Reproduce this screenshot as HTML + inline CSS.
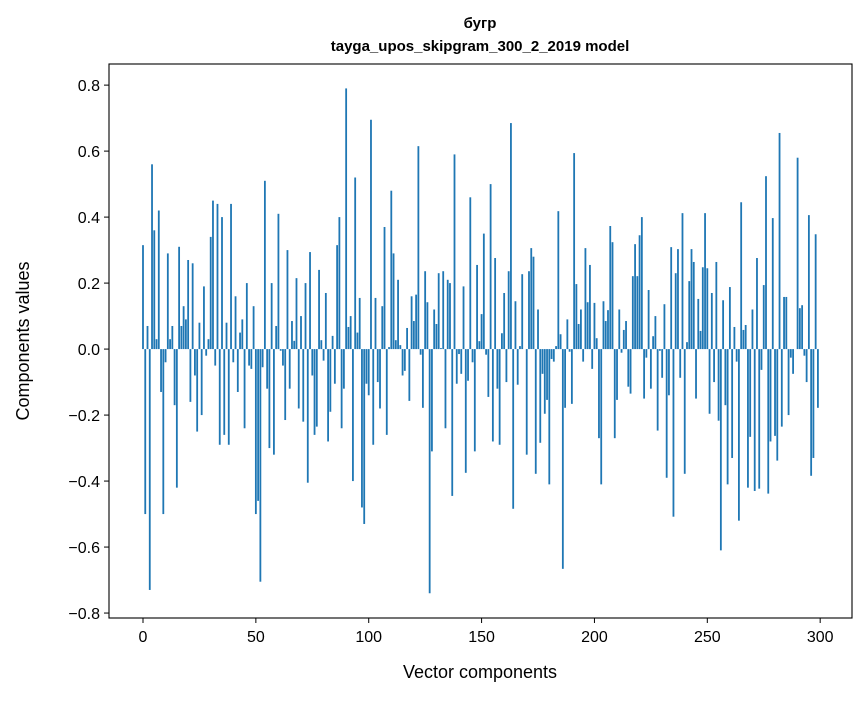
<!DOCTYPE html>
<html><head><meta charset="utf-8"><style>
body{margin:0;background:#fff;}
svg text{font-family:"Liberation Sans","DejaVu Sans",sans-serif;fill:#000;}
</style></head><body>
<svg id="chart" width="867" height="696" viewBox="0 0 867 696" xmlns="http://www.w3.org/2000/svg">
<rect width="867" height="696" fill="#fff"/>
<text x="480" y="28" text-anchor="middle" font-size="15" font-weight="bold">бугр</text>
<text x="480" y="51" text-anchor="middle" font-size="15" font-weight="bold">tayga_upos_skipgram_300_2_2019 model</text>
<g id="bars"></g>
<g id="axes"></g>
<text x="480" y="678" text-anchor="middle" font-size="18">Vector components</text>
<text transform="translate(29,341) rotate(-90)" text-anchor="middle" font-size="18">Components values</text>
</svg>
<script>
const values = [0.315,-0.50,0.07,-0.73,0.56,0.36,0.03,0.42,-0.13,-0.50,
-0.04,0.29,0.03,0.07,-0.17,-0.42,0.31,0.07,0.13,0.09,
0.27,-0.16,0.26,-0.08,-0.25,0.08,-0.20,0.19,-0.02,0.03,
0.34,0.45,-0.05,0.44,-0.29,0.40,-0.26,0.08,-0.29,0.44,
-0.04,0.16,-0.13,0.05,0.09,-0.24,0.20,-0.05,-0.06,0.13,
-0.50,-0.46,-0.705,-0.055,0.51,-0.12,-0.30,0.20,-0.32,0.07,
0.41,-0.005,-0.05,-0.215,0.30,-0.12,0.085,0.025,0.215,-0.18,
0.10,-0.22,0.20,-0.405,0.294,-0.08,-0.26,-0.235,0.24,0.027,
-0.035,0.17,-0.28,-0.19,0.04,-0.105,0.315,0.40,-0.24,-0.12,
0.79,0.067,0.10,-0.40,0.52,0.05,0.155,-0.48,-0.53,-0.105,
-0.14,0.695,-0.29,0.155,-0.10,-0.18,0.13,0.37,-0.26,0.006,
0.48,0.29,0.027,0.21,0.012,-0.08,-0.066,0.064,-0.157,0.16,
0.085,0.165,0.615,-0.017,-0.178,0.236,0.142,-0.74,-0.31,0.12,
0.076,0.23,0.003,0.236,-0.24,0.21,0.20,-0.445,0.59,-0.105,
-0.015,-0.075,0.19,-0.375,-0.096,0.46,-0.04,-0.31,0.255,0.024,
0.106,0.35,-0.017,-0.145,0.50,-0.28,0.276,-0.12,-0.29,0.048,
0.17,-0.10,0.236,0.685,-0.484,0.145,-0.108,0.009,0.227,0.0,
-0.32,0.236,0.306,0.28,-0.378,0.12,-0.284,-0.075,-0.196,-0.154,
-0.41,-0.03,-0.038,0.009,0.418,0.045,-0.666,-0.178,0.09,-0.008,
-0.166,0.594,0.197,0.076,0.12,-0.038,0.306,0.142,0.255,-0.06,
0.14,0.033,-0.27,-0.41,0.145,0.085,0.118,0.373,0.324,-0.27,
-0.154,0.12,-0.011,0.058,0.085,-0.114,-0.135,0.221,0.318,0.221,
0.345,0.40,-0.15,-0.026,0.179,-0.12,0.039,0.10,-0.247,-0.005,
-0.087,0.136,-0.39,-0.14,0.309,-0.508,0.23,0.303,-0.087,0.412,
-0.378,0.021,0.206,0.303,0.264,-0.15,0.152,0.055,0.248,0.412,
0.245,-0.196,0.17,-0.10,0.264,-0.217,-0.61,0.148,-0.17,-0.41,
0.188,-0.33,0.067,-0.038,-0.52,0.445,0.058,0.073,-0.42,-0.266,
0.12,-0.43,0.276,-0.423,-0.063,0.194,0.524,-0.438,-0.28,0.397,
-0.263,-0.338,0.655,-0.235,0.158,0.158,-0.20,-0.026,-0.075,0.0,
0.58,0.124,0.133,-0.02,-0.10,0.406,-0.384,-0.33,0.348,-0.178];
const xTicks = [0,50,100,150,200,250,300];
const yTicks = [-0.8,-0.6,-0.4,-0.2,0.0,0.2,0.4,0.6,0.8];
const yTickLabels = ["\u22120.8","\u22120.6","\u22120.4","\u22120.2","0.0","0.2","0.4","0.6","0.8"];

const L=109,R=852,T=64,B=618;
const xMin=-15.06,xMax=314.1,yMin=-0.815,yMax=0.864;
const sx=v=>L+(v-xMin)/(xMax-xMin)*(R-L);
const sy=v=>T+(yMax-v)/(yMax-yMin)*(B-T);
const NS="http://www.w3.org/2000/svg";
const bars=document.getElementById('bars');
const bw=sx(0.8)-sx(0);
values.forEach((v,i)=>{
  const r=document.createElementNS(NS,'rect');
  const y0=sy(0),y1=sy(v);
  r.setAttribute('x',sx(i)-bw/2);
  r.setAttribute('y',Math.min(y0,y1));
  r.setAttribute('width',bw);
  r.setAttribute('height',Math.abs(y1-y0));
  r.setAttribute('fill','#1f77b4');
  
  
  bars.appendChild(r);
});
const axes=document.getElementById('axes');
const frame=document.createElementNS(NS,'rect');
frame.setAttribute('x',L);frame.setAttribute('y',T);
frame.setAttribute('width',R-L);frame.setAttribute('height',B-T);
frame.setAttribute('fill','none');frame.setAttribute('stroke','#000');frame.setAttribute('stroke-width','1.1');


axes.appendChild(frame);
xTicks.forEach(t=>{
  const x=sx(t);
  const l=document.createElementNS(NS,'line');
  l.setAttribute('x1',x);l.setAttribute('x2',x);l.setAttribute('y1',B);l.setAttribute('y2',B+5);
  l.setAttribute('stroke','#000');
  
  
  axes.appendChild(l);
  const tx=document.createElementNS(NS,'text');
  tx.setAttribute('x',x);tx.setAttribute('y',B+24);tx.setAttribute('text-anchor','middle');tx.setAttribute('font-size','16');
  tx.textContent=t;
  
  
  axes.appendChild(tx);
});
yTicks.forEach((t,i)=>{
  const y=sy(t);
  const l=document.createElementNS(NS,'line');
  l.setAttribute('x1',L-5);l.setAttribute('x2',L);l.setAttribute('y1',y);l.setAttribute('y2',y);
  l.setAttribute('stroke','#000');
  
  
  axes.appendChild(l);
  const tx=document.createElementNS(NS,'text');
  tx.setAttribute('x',L-9);tx.setAttribute('y',y+6);tx.setAttribute('text-anchor','end');tx.setAttribute('font-size','16');
  tx.textContent=yTickLabels[i];
  
  
  axes.appendChild(tx);
});
</script>
</body></html>
